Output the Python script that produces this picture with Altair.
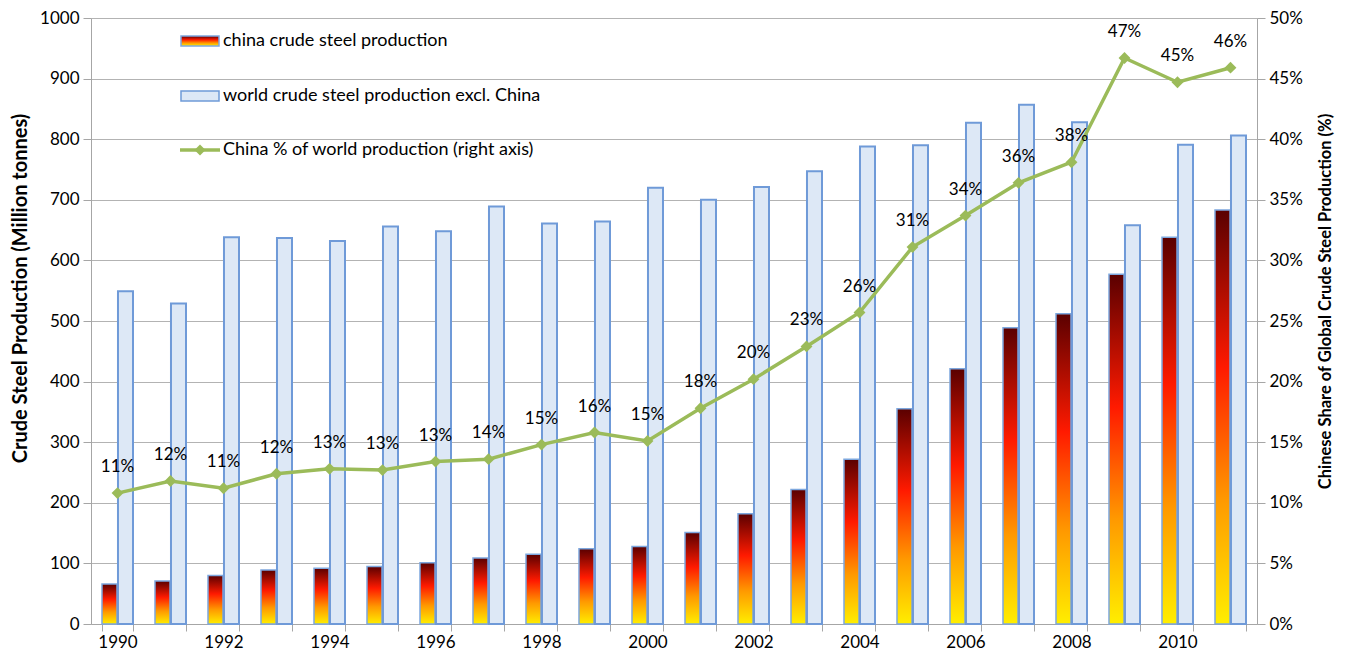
import altair as alt
import pandas as pd

years = list(range(1990, 2012))
china = [66, 71, 80, 89, 92, 95, 101, 109, 115, 124, 128, 151, 182, 222, 272, 355, 421, 489, 512, 577, 638, 683]
world_ex = [549, 529, 638, 637, 632, 656, 648, 689, 661, 664, 720, 700, 721, 747, 788, 790, 827, 857, 828, 658, 791, 806]
share_pct = [10.8, 11.8, 11.2, 12.4, 12.8, 12.7, 13.4, 13.6, 14.8, 15.8, 15.1, 17.8, 20.2, 22.9, 25.7, 31.1, 33.7, 36.4, 38.1, 46.7, 44.7, 45.9]
share_labels = ["11%", "12%", "11%", "12%", "13%", "13%", "13%", "14%", "15%", "16%", "15%", "18%", "20%", "23%", "26%", "31%", "34%", "36%", "38%", "47%", "45%", "46%"]
legend_labels = ["china crude steel production", "world crude steel production excl. China", "China % of world production (right axis)"]

FONT = "Lato"
GREEN = "#9bbb59"
GRID = "#b3b3b3"

bars_df = pd.DataFrame({
    "year": years * 2,
    "series": ["china"] * len(years) + ["world"] * len(years),
    "value": china + world_ex,
})
line_df = pd.DataFrame({"year": years, "share": [s / 100 for s in share_pct], "label": share_labels})

x_enc = alt.X(
    "year:O",
    scale=alt.Scale(paddingInner=0.415, paddingOuter=0.2075),
    axis=alt.Axis(
        title=None, labelAngle=0, labelExpr="datum.value % 2 == 0 ? datum.label : ''",
        tickBand="extent", grid=False, domainColor="#a6a6a6", tickColor="#a6a6a6",
        tickSize=7, labelFontSize=17, labelPadding=3, labelColor="#000",
    ),
)
xoff = alt.XOffset("series:N", scale=alt.Scale(domain=["china", "world"], paddingInner=0.06))
y_left = alt.Y(
    "value:Q",
    scale=alt.Scale(domain=[0, 1000], nice=False),
    axis=alt.Axis(
        title="Crude Steel Production (Million tonnes)", values=list(range(0, 1001, 100)), format="d",
        grid=True, gridColor=GRID, domainColor="#a6a6a6", tickColor="#a6a6a6", tickSize=8,
        labelFontSize=17, labelPadding=4, labelColor="#000", titleFontSize=20,
        titleFontWeight="bold", titlePadding=9, titleColor="#000", titleY=270,
    ),
)

grad = alt.LinearGradient(
    gradient="linear", x1=0, x2=0, y1=1, y2=0,
    stops=[
        alt.GradientStop(color="#ffee00", offset=0),
        alt.GradientStop(color="#ff9900", offset=0.3),
        alt.GradientStop(color="#ff1a00", offset=0.62),
        alt.GradientStop(color="#5a0000", offset=1),
    ],
)

china_bars = alt.Chart(bars_df).transform_filter("datum.series == 'china'").mark_bar(
    fill=grad, stroke="#7da7de", strokeWidth=1.5
).encode(x=x_enc, xOffset=xoff, y=y_left)

world_bars = alt.Chart(bars_df).transform_filter("datum.series == 'world'").mark_bar(
    fill="#dde8f6", stroke="#6f9ad8", strokeWidth=2
).encode(x=x_enc, xOffset=xoff, y=y_left)

one = alt.Data(values=[{}])
leg_sw1 = alt.Chart(one).mark_rect(fill=grad, stroke="#7da7de", strokeWidth=1.5).encode(
    x=alt.value(90), x2=alt.value(128), y=alt.value(18), y2=alt.value(28))
leg_sw2 = alt.Chart(one).mark_rect(fill="#dde8f6", stroke="#6f9ad8", strokeWidth=1.5).encode(
    x=alt.value(90), x2=alt.value(128), y=alt.value(73), y2=alt.value(83))
leg_line = alt.Chart(one).mark_rule(color=GREEN, strokeWidth=3.5).encode(
    x=alt.value(89), x2=alt.value(129), y=alt.value(132))
leg_pt = alt.Chart(one).mark_point(shape="diamond", filled=True, size=120, color=GREEN, opacity=1).encode(
    x=alt.value(109), y=alt.value(132))
leg_texts = [
    alt.Chart(one).mark_text(text=t, align="left", baseline="middle", fontSize=18, font=FONT, color="#000").encode(
        x=alt.value(132), y=alt.value(yy))
    for t, yy in zip(legend_labels, [23, 78, 132])
]

left_layer = alt.layer(china_bars, world_bars, leg_sw1, leg_sw2, leg_line, leg_pt, *leg_texts)

y_right = alt.Y(
    "share:Q",
    scale=alt.Scale(domain=[0, 0.5], nice=False),
    axis=alt.Axis(
        orient="right", title="Chinese Share of Global Crude Steel Production (%)", format=".0%",
        values=[i / 100 for i in range(0, 51, 5)], grid=False, domainColor="#a6a6a6",
        tickColor="#a6a6a6", tickSize=8, labelFontSize=17, labelPadding=4, labelColor="#000",
        titleFontSize=16.5, titleFontWeight="bold", titlePadding=15, titleColor="#000",
        titleAngle=270, titleBaseline="top", titleY=283,
    ),
)
line = alt.Chart(line_df).mark_line(color=GREEN, strokeWidth=3.5).encode(x=x_enc, y=y_right)
pts = alt.Chart(line_df).mark_point(shape="diamond", filled=True, size=140, color=GREEN, opacity=1).encode(
    x=x_enc, y=y_right)
labels = alt.Chart(line_df).mark_text(dy=-26, fontSize=17, font=FONT, color="#000").encode(
    x=x_enc, y=y_right, text="label:N")
right_layer = alt.layer(line, pts, labels)

chart = alt.layer(left_layer, right_layer).resolve_scale(y="independent").properties(
    width=1166, height=606, padding={"left": 2, "top": 1, "right": 2, "bottom": 2},
).configure_view(stroke=None).configure(font=FONT)

chart.save("out.html", embed_options={"renderer": "svg", "actions": False})
